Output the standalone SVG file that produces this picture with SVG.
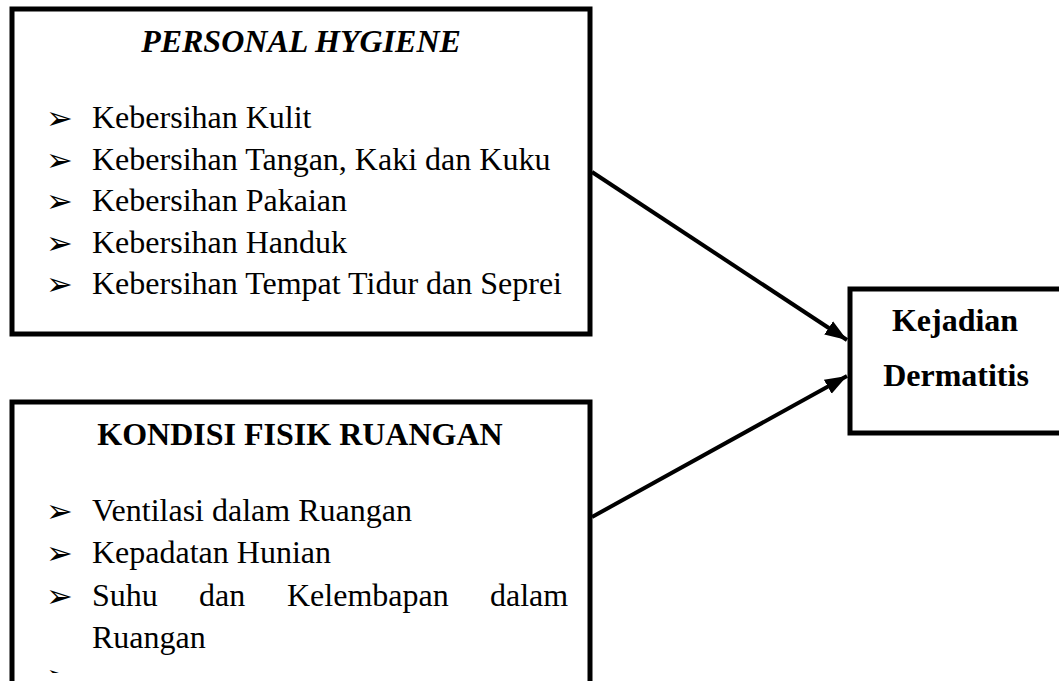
<svg xmlns="http://www.w3.org/2000/svg" width="1059" height="681" viewBox="0 0 1059 681">
<style>
  .box { fill: #ffffff; stroke: #000000; stroke-width: 5; }
  .t { font-family: "Liberation Serif", "Times New Roman", serif; font-size: 32px; fill: #000000; }
  .b { font-weight: bold; }
  .bi { font-weight: bold; font-style: italic; }
  .bul { font-family: "DejaVu Sans", sans-serif; font-size: 32px; fill: #000000; }
  .conn { stroke: #000000; stroke-width: 4; fill: none; }
</style>
<defs>
  <marker id="ah" markerUnits="userSpaceOnUse" markerWidth="24" markerHeight="20" refX="22" refY="10" orient="auto">
    <path d="M0,2 L22,10 L0,18 Z" fill="#000000"/>
  </marker>
  <clipPath id="cut"><rect x="0" y="0" width="1059" height="673"/></clipPath>
</defs>
<rect width="1059" height="681" fill="#ffffff"/>

<g id="personal-hygiene">
  <rect class="box" x="12" y="9" width="578" height="325"/>
  <text class="t bi" x="301" y="52" text-anchor="middle">PERSONAL HYGIENE</text>
  <text class="bul" x="46" y="129">➢</text>
  <text class="t" x="92" y="128">Kebersihan Kulit</text>
  <text class="bul" x="46" y="170.5">➢</text>
  <text class="t" x="92" y="169.5">Kebersihan Tangan, Kaki dan Kuku</text>
  <text class="bul" x="46" y="212">➢</text>
  <text class="t" x="92" y="211">Kebersihan Pakaian</text>
  <text class="bul" x="46" y="253.5">➢</text>
  <text class="t" x="92" y="252.5">Kebersihan Handuk</text>
  <text class="bul" x="46" y="295">➢</text>
  <text class="t" x="92" y="294">Kebersihan Tempat Tidur dan Seprei</text>
</g>

<g id="kondisi-fisik">
  <rect class="box" x="12" y="402" width="578" height="300"/>
  <text class="t b" x="300" y="445" text-anchor="middle">KONDISI FISIK RUANGAN</text>
  <text class="bul" x="46" y="522">➢</text>
  <text class="t" x="92" y="521">Ventilasi dalam Ruangan</text>
  <text class="bul" x="46" y="564">➢</text>
  <text class="t" x="92" y="563">Kepadatan Hunian</text>
  <text class="bul" x="46" y="607">➢</text>
  <text class="t" y="606"><tspan x="92">Suhu</tspan><tspan x="199">dan</tspan><tspan x="287">Kelembapan</tspan><tspan x="490">dalam</tspan></text>
  <text class="t" x="92" y="648">Ruangan</text>
  <text class="bul" x="46" y="687" clip-path="url(#cut)">➢</text>
</g>

<g id="kejadian-dermatitis">
  <rect class="box" x="850" y="289" width="230" height="144"/>
  <text class="t b" x="955" y="331" text-anchor="middle">Kejadian</text>
  <text class="t b" x="956" y="386" text-anchor="middle">Dermatitis</text>
</g>

<g id="connectors">
  <line class="conn" x1="592" y1="172" x2="847" y2="340" marker-end="url(#ah)"/>
  <line class="conn" x1="592" y1="517" x2="847" y2="376" marker-end="url(#ah)"/>
</g>
</svg>
